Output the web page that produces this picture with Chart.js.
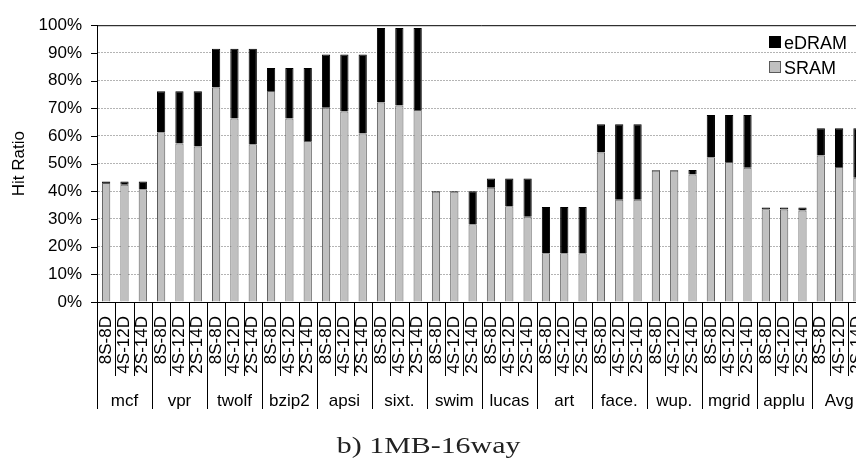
<!DOCTYPE html>
<html>
<head>
<meta charset="utf-8">
<script src="https://cdn.jsdelivr.net/npm/chart.js@4"></script>
<style>
  body { margin: 0; overflow: hidden; background: #fff; }
  #wrap { position: relative; width: 856px; height: 466px; overflow: hidden; }
  #caption { position: absolute; top: 434px; left: 0; width: 858px; text-align: center;
    font: 23px 'Liberation Serif', 'Times New Roman', serif; line-height: 1; color: #222; }
  #caption span { display: inline-block; transform: scaleX(1.3); }
</style>
</head>
<body>
<div id="wrap">
  <canvas id="chart" width="892" height="466"></canvas>
  <div id="caption"><span>b) 1MB-16way</span></div>
</div>
<script>
// bar configs inside each benchmark group
var configs = ['8S-8D', '4S-12D', '2S-14D']

var benchmarks = ['mcf', 'vpr', 'twolf', 'bzip2', 'apsi', 'sixt.', 'swim',
  'lucas', 'art', 'face.', 'wup.', 'mgrid', 'applu', 'Avg']

// hit ratio (%) served by SRAM, 3 bars per benchmark
var sram = [
  43.0, 42.4, 40.7,
  61.3, 57.3, 56.2,
  77.5, 66.3, 57.0,
  76.2, 66.3, 58.2,
  70.2, 68.8, 60.9,
  72.1, 71.0, 69.4,
  39.8, 39.8, 28.1,
  41.3, 34.6, 30.8,
  17.6, 17.6, 17.6,
  54.0, 36.9, 36.9,
  47.4, 47.4, 46.1,
  52.3, 50.6, 48.5,
  33.5, 33.4, 33.1,
  52.9, 48.8, 44.9
]

// extra hit ratio (%) served by eDRAM, stacked on top
var edram = [
  0.5, 1.1, 2.8,
  14.8, 18.8, 19.9,
  14.0, 25.2, 34.5,
  8.3, 18.2, 26.3,
  19.2, 20.6, 28.5,
  26.9, 28.0, 29.6,
  0.3, 0.3, 11.9,
  3.3, 10.0, 13.8,
  16.7, 16.7, 16.7,
  10.2, 27.3, 27.3,
  0.3, 0.3, 1.6,
  15.3, 17.0, 19.1,
  0.6, 0.7, 1.0,
  9.9, 14.0, 17.9
]

var yTicks = [0, 10, 20, 30, 40, 50, 60, 70, 80, 90, 100]

var labels = []
benchmarks.forEach(function () {
  configs.forEach(function (c) { labels.push(c) })
})

var sans = "'Liberation Sans', Arial, sans-serif"

// group separators, group names, tick marks, top frame and legend
var decor = {
  id: 'decor',
  afterDraw: function (chart) {
    var ctx = chart.ctx
    var a = chart.chartArea
    var x = chart.scales.x
    var y = chart.scales.y
    ctx.save()
    ctx.strokeStyle = '#000'
    ctx.lineWidth = 1
    ctx.beginPath()
    ctx.moveTo(a.left, a.top + 0.5)
    ctx.lineTo(a.right, a.top + 0.5)
    yTicks.forEach(function (v) {
      var py = Math.round(y.getPixelForValue(v)) + 0.5
      ctx.moveTo(a.left - 6, py)
      ctx.lineTo(a.left, py)
    })
    var n = labels.length
    var w = (x.getPixelForValue(n - 1) - x.getPixelForValue(0)) / (n - 1)
    for (var k = 0; k <= n; k++) {
      var px = Math.round(x.getPixelForValue(0) + (k - 0.5) * w) + 0.5
      var len = k % configs.length === 0 ? 107 : 74
      ctx.moveTo(px, a.bottom)
      ctx.lineTo(px, a.bottom + len)
    }
    ctx.stroke()

    ctx.fillStyle = '#000'
    ctx.font = '17px ' + sans
    ctx.textAlign = 'center'
    ctx.textBaseline = 'alphabetic'
    benchmarks.forEach(function (b, g) {
      ctx.fillText(b, x.getPixelForValue(g * configs.length + 1), a.bottom + 104)
    })

    // legend, top dataset first
    var ds = chart.data.datasets.slice().reverse()
    ctx.textAlign = 'left'
    ctx.font = '18px ' + sans
    ds.forEach(function (d, i) {
      var by = 36 + i * 25
      ctx.fillStyle = d.backgroundColor
      ctx.fillRect(769, by, 12, 12)
      ctx.strokeStyle = d.borderColor
      ctx.strokeRect(769.5, by + 0.5, 11, 11)
      ctx.fillStyle = '#000'
      ctx.fillText(d.label, 784, by + 12.5)
    })
    ctx.restore()
  }
}

var chart = new Chart(document.getElementById('chart'), {
  type: 'bar',
  data: {
    labels: labels,
    datasets: [
      {
        label: 'SRAM',
        data: sram,
        backgroundColor: '#c0c0c0',
        borderColor: '#5a5a5a',
        borderWidth: 1
      },
      {
        label: 'eDRAM',
        data: edram,
        backgroundColor: '#000000',
        borderColor: '#000000',
        borderWidth: 1
      }
    ]
  },
  options: {
    responsive: false,
    animation: false,
    layout: { padding: { top: 16, right: 13, left: 0, bottom: 0 } },
    datasets: { bar: { categoryPercentage: 1, barPercentage: 0.45 } },
    plugins: { legend: { display: false }, tooltip: { enabled: false } },
    scales: {
      x: {
        stacked: true,
        grid: { display: false, drawTicks: false },
        border: { color: '#000', width: 1 },
        ticks: {
          autoSkip: false, minRotation: 90, maxRotation: 90, padding: 14,
          color: '#000', font: { family: sans, size: 17 }
        },
        afterFit: function (s) { s.height = 164 }
      },
      y: {
        stacked: true,
        min: 0,
        max: 100,
        ticks: {
          stepSize: 10, padding: 15, color: '#000',
          font: { family: sans, size: 17 },
          callback: function (v) { return v + '%' }
        },
        grid: {
          drawTicks: false,
          lineWidth: 1,
          color: function (c) {
            return c.tick.value === 0 || c.tick.value === 100 ? 'rgba(0,0,0,0)' : '#b4b4b4'
          }
        },
        border: { color: '#000', width: 1, dash: [2, 1] },
        title: {
          display: true, text: 'Hit Ratio', color: '#000',
          font: { family: sans, size: 17 }, padding: { top: 9, bottom: 0 }
        },
        afterFit: function (s) { s.width = 97 }
      }
    }
  },
  plugins: [decor]
})
</script>
</body>
</html>
